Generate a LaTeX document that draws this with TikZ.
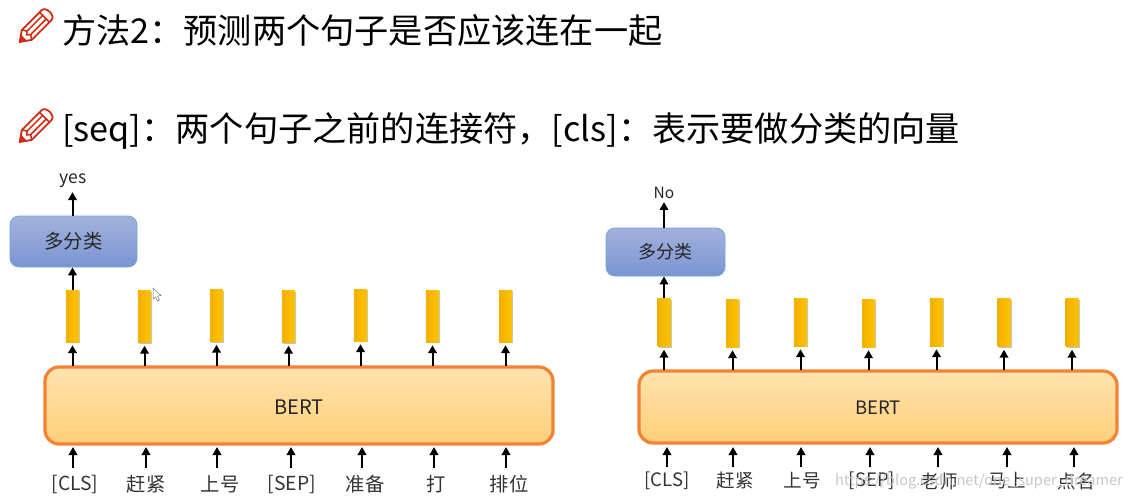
\documentclass[tikz,border=0pt]{standalone}
\usepackage{fontspec}
\setmainfont{Noto Sans CJK SC}
\usetikzlibrary{arrows.meta,shadows,calc}
\definecolor{barA}{HTML}{FFC400}
\definecolor{barB}{HTML}{F2B000}
\definecolor{bertO}{HTML}{F58233}
\definecolor{bertT}{HTML}{FFE3AE}
\definecolor{bertB}{HTML}{FFCF7A}
\definecolor{clsT}{HTML}{A3B2DC}
\definecolor{clsB}{HTML}{7A94D2}
\definecolor{clsL}{HTML}{6FA4DC}
\definecolor{penR}{HTML}{D02A12}
\tikzset{x=1pt,y=-1pt,
  heading/.style={anchor=west,inner sep=0,font=\fontsize{34.2}{36}\selectfont,text=black},
  bert/.style={draw=bertO,line width=3.2pt,rounded corners=14pt,top color=bertT,bottom color=bertB,inner sep=0},
  clsbox/.style={draw=clsL,line width=.8pt,rounded corners=9pt,top color=clsT,bottom color=clsB,inner sep=0,text=black!85},
  bar/.style={draw=none,inner sep=0,minimum width=13pt,left color=barB,right color=barA,drop shadow={shadow xshift=1.2pt,shadow yshift=-1.2pt,fill=black!45,opacity=.5}},
  lbl/.style={inner sep=0,text=black!80},
  outlbl/.style={inner sep=0,text=black!85},
  conn/.style={draw=black,line width=2pt,-{Triangle[length=8pt,width=8.5pt]}},
  wm/.style={inner sep=0,font=\fontsize{14.6}{16}\selectfont,text=black!22}
}
\newcommand{\pencil}[2]{%
  \begin{scope}[shift={(#1,#2)},rotate=45]
    \draw[penR,line width=1.8pt,line join=round,fill=white] (1,0) -- (11,-7) -- (39,-7) .. controls (45,-7) and (45,7) .. (39,7) -- (11,7) -- cycle;
    \fill[penR] (0,0) -- (7,-4.5) -- (7,4.5) -- cycle;
    \draw[penR,line width=1.5pt] (36,-7) -- (36,7);
    \draw[penR,line width=1.5pt] (13,-2.5) -- (36,-2.5) (13,2.5) -- (36,2.5);
    \draw[penR,line width=1.5pt] (11,-7) -- (14,-2.5) -- (11,0) -- (14,2.5) -- (11,7);
  \end{scope}}
\begin{document}
\begin{tikzpicture}
\useasboundingbox (0,0) rectangle (1135,499);
\fill[white] (0,0) rectangle (1135,499);
\pencil{19}{42.7}
\pencil{19}{142.7}
\node[heading] (h1) at (62,30) {方法2：预测两个句子是否应该连在一起};
\node[heading] (h2) at (62,131) {[seq]：两个句子之前的连接符，[cls]：表示要做分类的向量};

% left
\path[bert] (45,367) rectangle (553,444);
\node[font=\fontsize{20}{22}\selectfont,text=black!85,inner sep=0] (bertL) at (299,407) {BERT};
\node[clsbox,minimum width=127pt,minimum height=51pt,font=\fontsize{19.4}{21}\selectfont] (clsL) at (73.5,241.5) {多分类};
\node[outlbl,font=\fontsize{17.5}{19}\selectfont] (yes) at (73,181) {yes};
\foreach \i/\x/\y/\lx/\ix/\t in {1/72.5/316/75/73/{[CLS]},2/144.5/316.5/146/146/赶紧,3/216.5/315.5/220/217/上号,4/288.5/316.5/292/291/{[SEP]},5/360.5/315/365/362/准备,6/432.5/316/436/434/打,7/505.5/316/509/506/排位}{
  \node[bar,minimum height=52pt] (lb\i) at (\x,\y) {};
  \node[lbl,font=\fontsize{19.3}{21}\selectfont] (ll\i) at (\lx,484) {\t};
  \coordinate (lin\i) at (\ix,468);
  \coordinate (linE\i) at (\ix,447);
  \coordinate (lup\i) at (\x,366);
  \draw[conn] (lin\i) -- (linE\i);
  \draw[conn] (lup\i) -- ($(lb\i.south)+(0,3)$);
}
\draw[conn] (lb1.north) -- (lb1.north |- clsL.south);
\draw[conn] (lb1.north |- clsL.north) -- ($(lb1.north |- yes.south)+(0,4)$);

% right
\path[bert] (639,371) rectangle (1117,443);
\node[font=\fontsize{18.5}{20}\selectfont,text=black!85,inner sep=0] (bertR) at (878,408) {BERT};
\node[clsbox,minimum width=119pt,minimum height=48pt,font=\fontsize{18}{20}\selectfont] (clsR) at (665.5,252) {多分类};
\node[outlbl,font=\fontsize{15.5}{17}\selectfont] (no) at (664,193) {No};
\foreach \i/\x/\y/\lx/\ix/\t in {1/664/322.5/667/667/{[CLS]},2/732.5/323/735/733/赶紧,3/800.5/322/802/801/上号,4/868.5/323/872/870/{[SEP]},5/936.5/322/939/938/老师,6/1004/322.5/1007/1007/马上,7/1072/322.5/1076/1074/点名}{
  \node[bar,minimum height=48pt] (rb\i) at (\x,\y) {};
  \node[lbl,font=\fontsize{18.5}{20}\selectfont] (rl\i) at (\lx,481) {\t};
  \coordinate (rin\i) at (\ix,467);
  \coordinate (rinE\i) at (\ix,447);
  \coordinate (rup\i) at (\x,370);
  \draw[conn] (rin\i) -- (rinE\i);
  \draw[conn] (rup\i) -- ($(rb\i.south)+(0,3)$);
}
\draw[conn] (rb1.north) -- (rb1.north |- clsR.south);
\draw[conn] (rb1.north |- clsR.north) -- ($(rb1.north |- no.south)+(0,3)$);

\node[wm,anchor=west] (wm) at (835,482) {https://blog.csdn.net/one\_super\_dreamer};
% cursor
\draw[black!55,fill=white,line width=.5pt] (153,288) -- (153,299) -- (155.5,297) -- (157.5,301) -- (159.5,300) -- (157.5,296) -- (161,295.5) -- cycle;
\end{tikzpicture}
\end{document}
